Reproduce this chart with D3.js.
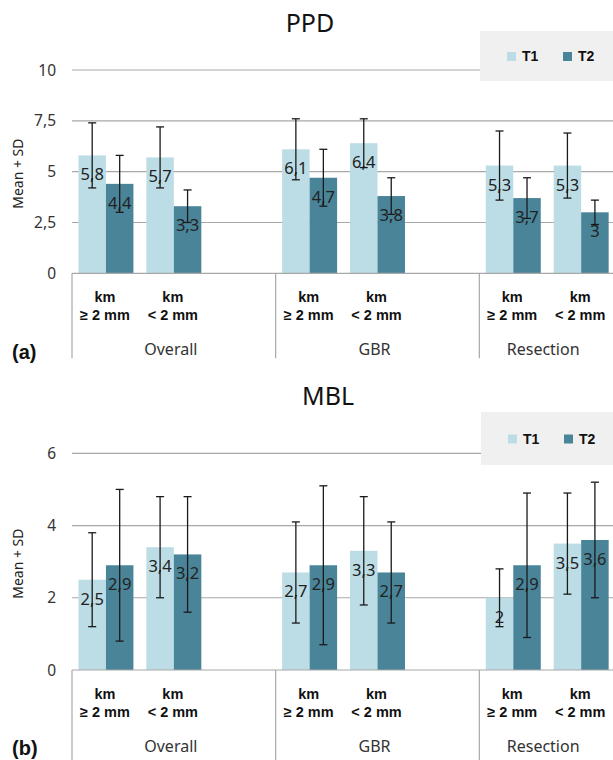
<!DOCTYPE html>
<html>
<head>
<meta charset="utf-8">
<script src="https://cdn.jsdelivr.net/npm/d3@7"></script>
<style>
  body{margin:0;background:#fff;}
  svg{display:block;}
</style>
</head>
<body>
<svg id="chart" width="613" height="760"></svg>
<script>
// data
const groups = ["Overall", "GBR", "Resection"];
const subcats = ["ge", "lt", "blank"];
const subcatLabels = {ge: "\u2265 2 mm", lt: "< 2 mm", blank: ""};
const series = ["T1", "T2"];
const colors = ["#bcdde6", "#4a8499"];

const ppdT1 = [5.8, 5.7, 6.1, 6.4, 5.3, 5.3];
const ppdT2 = [4.4, 3.3, 4.7, 3.8, 3.7, 3];
const ppdT1sd = [1.6, 1.5, 1.5, 1.2, 1.7, 1.6];
const ppdT2sd = [1.4, 0.8, 1.4, 0.9, 1.0, 0.6];
const ppdTicks = [0, 2.5, 5, 7.5, 10];

const mblT1 = [2.5, 3.4, 2.7, 3.3, 2, 3.5];
const mblT2 = [2.9, 3.2, 2.9, 2.7, 2.9, 3.6];
const mblT1sd = [1.3, 1.4, 1.4, 1.5, 0.8, 1.4];
const mblT2sd = [2.1, 1.6, 2.2, 1.4, 2.0, 1.6];
const mblTicks = [0, 2, 4, 6];

const svg = d3.select("#chart");
const W = 613;
const fmt = v => String(v).replace(".", ",");

// x scales shared by both panels
const slots = [];
groups.forEach(g => subcats.forEach(s => slots.push(g + "|" + s)));
const x0 = d3.scaleBand().domain(slots).range([72, 683]).padding(0);
const x1 = d3.scaleBand().domain(series).range([0, x0.bandwidth()]).paddingOuter(0.235).paddingInner(0);

function drawPanel(cfg){
    const g = svg.append("g");
    const y = d3.scaleLinear().domain([0, cfg.max]).range([cfg.y0, cfg.yTop]);

    // gridlines
    g.selectAll(".grid").data(cfg.ticks.filter(t => t > 0)).join("line")
        .attr("x1", 72).attr("x2", W)
        .attr("y1", d => y(d)).attr("y2", d => y(d))
        .attr("stroke", "#a8a8a8").attr("stroke-width", 1.2);

    // tick labels
    g.selectAll(".tick").data(cfg.ticks).join("text")
        .attr("x", 56).attr("y", d => y(d) + 5.5)
        .attr("text-anchor", "end")
        .attr("font-family", "Noto Sans").attr("font-size", 15.5).attr("fill", "#333")
        .text(d => fmt(d));

    // y title
    g.append("text")
        .attr("transform", `translate(23,${(cfg.y0 + cfg.yTop) / 2 + 2}) rotate(-90)`)
        .attr("text-anchor", "middle")
        .attr("font-family", "Noto Sans").attr("font-size", 14).attr("fill", "#222")
        .text("Mean + SD");

    // bars
    const rows = [];
    groups.forEach((gr, gi) => {
        ["ge", "lt"].forEach((s, si) => {
            const i = gi * 2 + si;
            rows.push({slot: gr + "|" + s, s: "T1", v: cfg.t1[i], sd: cfg.t1sd[i]});
            rows.push({slot: gr + "|" + s, s: "T2", v: cfg.t2[i], sd: cfg.t2sd[i]});
        });
    });
    const cx = d => x0(d.slot) + x1(d.s) + x1.bandwidth() / 2;

    g.selectAll(".bar").data(rows).join("rect")
        .attr("x", d => x0(d.slot) + x1(d.s))
        .attr("width", x1.bandwidth())
        .attr("y", d => y(d.v))
        .attr("height", d => y(0) - y(d.v))
        .attr("fill", d => colors[series.indexOf(d.s)]);

    // data labels
    g.selectAll(".lbl").data(rows).join("text")
        .attr("x", cx).attr("y", d => y(d.v) + 25)
        .attr("text-anchor", "middle")
        .attr("font-family", "Noto Sans").attr("font-size", 16.5).attr("fill", "#222")
        .text(d => fmt(d.v));

    // error bars
    const eb = g.selectAll(".err").data(rows).join("g").attr("stroke", "#1a1a1a").attr("stroke-width", 1.3);
    eb.append("line").attr("x1", cx).attr("x2", cx)
        .attr("y1", d => y(d.v + d.sd)).attr("y2", d => y(d.v - d.sd));
    eb.append("line").attr("x1", d => cx(d) - 4).attr("x2", d => cx(d) + 4)
        .attr("y1", d => y(d.v + d.sd)).attr("y2", d => y(d.v + d.sd));
    eb.append("line").attr("x1", d => cx(d) - 4).attr("x2", d => cx(d) + 4)
        .attr("y1", d => y(d.v - d.sd)).attr("y2", d => y(d.v - d.sd));

    // x axis line
    g.append("line").attr("x1", 72).attr("x2", W)
        .attr("y1", y(0)).attr("y2", y(0))
        .attr("stroke", "#a8a8a8").attr("stroke-width", 1.2);

    // group separators
    g.selectAll(".sep").data(groups).join("line")
        .attr("x1", d => x0(d + "|ge")).attr("x2", d => x0(d + "|ge"))
        .attr("y1", y(0)).attr("y2", y(0) + cfg.sepLen)
        .attr("stroke", "#a8a8a8").attr("stroke-width", 1.2);

    // sub category labels
    const subs = g.selectAll(".sub").data(slots.filter(s => !s.endsWith("blank"))).join("text")
        .attr("text-anchor", "middle")
        .attr("font-family", "Liberation Sans").attr("font-weight", "bold")
        .attr("font-size", 14.5).attr("fill", "#111");
    subs.append("tspan").attr("x", d => x0(d) + x0.bandwidth() / 2 - 1).attr("y", y(0) + 29).text("km");
    subs.append("tspan").attr("x", d => x0(d) + x0.bandwidth() / 2 - 1).attr("y", y(0) + 47)
        .text(d => subcatLabels[d.split("|")[1]]);

    // group labels, centred on the visible part
    g.selectAll(".grp").data(groups).join("text")
        .attr("x", d => {
            const a = x0(d + "|ge"), b = Math.min(x0(d + "|blank") + x0.bandwidth(), W);
            return (a + b) / 2 - 3;
        })
        .attr("y", y(0) + cfg.grpOff)
        .attr("text-anchor", "middle")
        .attr("font-family", "Noto Sans").attr("font-size", 16).attr("fill", "#333")
        .text(d => d);

    // title
    g.append("text").attr("x", cfg.titleX).attr("y", cfg.titleY)
        .attr("text-anchor", "middle")
        .attr("font-family", "Noto Sans").attr("font-size", 25).attr("fill", "#111")
        .text(cfg.title);

    // panel letter
    g.append("text").attr("x", 12).attr("y", cfg.letterY)
        .attr("font-family", "Liberation Sans").attr("font-weight", "bold")
        .attr("font-size", 20).attr("fill", "#111")
        .text(cfg.letter);

    // legend
    const lg = g.append("g").attr("transform", `translate(${cfg.legX},${cfg.legY})`);
    lg.append("rect").attr("width", W - cfg.legX).attr("height", cfg.legH).attr("fill", "#f0f0f0");
    series.forEach((s, i) => {
        lg.append("rect").attr("x", 27 + i * 56).attr("y", cfg.legH / 2 - 4).attr("width", 9).attr("height", 9)
            .attr("fill", colors[i]);
        lg.append("text").attr("x", 42 + i * 56).attr("y", cfg.legH / 2 + 5)
            .attr("font-family", "Liberation Sans").attr("font-weight", "bold")
            .attr("font-size", 14).attr("fill", "#111")
            .text(s);
    });
}

drawPanel({
    title: "PPD", titleX: 310, titleY: 32, letter: "(a)", letterY: 359,
    t1: ppdT1, t2: ppdT2, t1sd: ppdT1sd, t2sd: ppdT2sd, ticks: ppdTicks, max: 10,
    y0: 273.3, yTop: 70, sepLen: 85, grpOff: 82,
    legX: 480, legY: 31, legH: 50
});

drawPanel({
    title: "MBL", titleX: 328, titleY: 405, letter: "(b)", letterY: 755,
    t1: mblT1, t2: mblT2, t1sd: mblT1sd, t2sd: mblT2sd, ticks: mblTicks, max: 6,
    y0: 670, yTop: 453.3, sepLen: 90, grpOff: 82,
    legX: 481, legY: 412, legH: 53
});
</script>
</body>
</html>
